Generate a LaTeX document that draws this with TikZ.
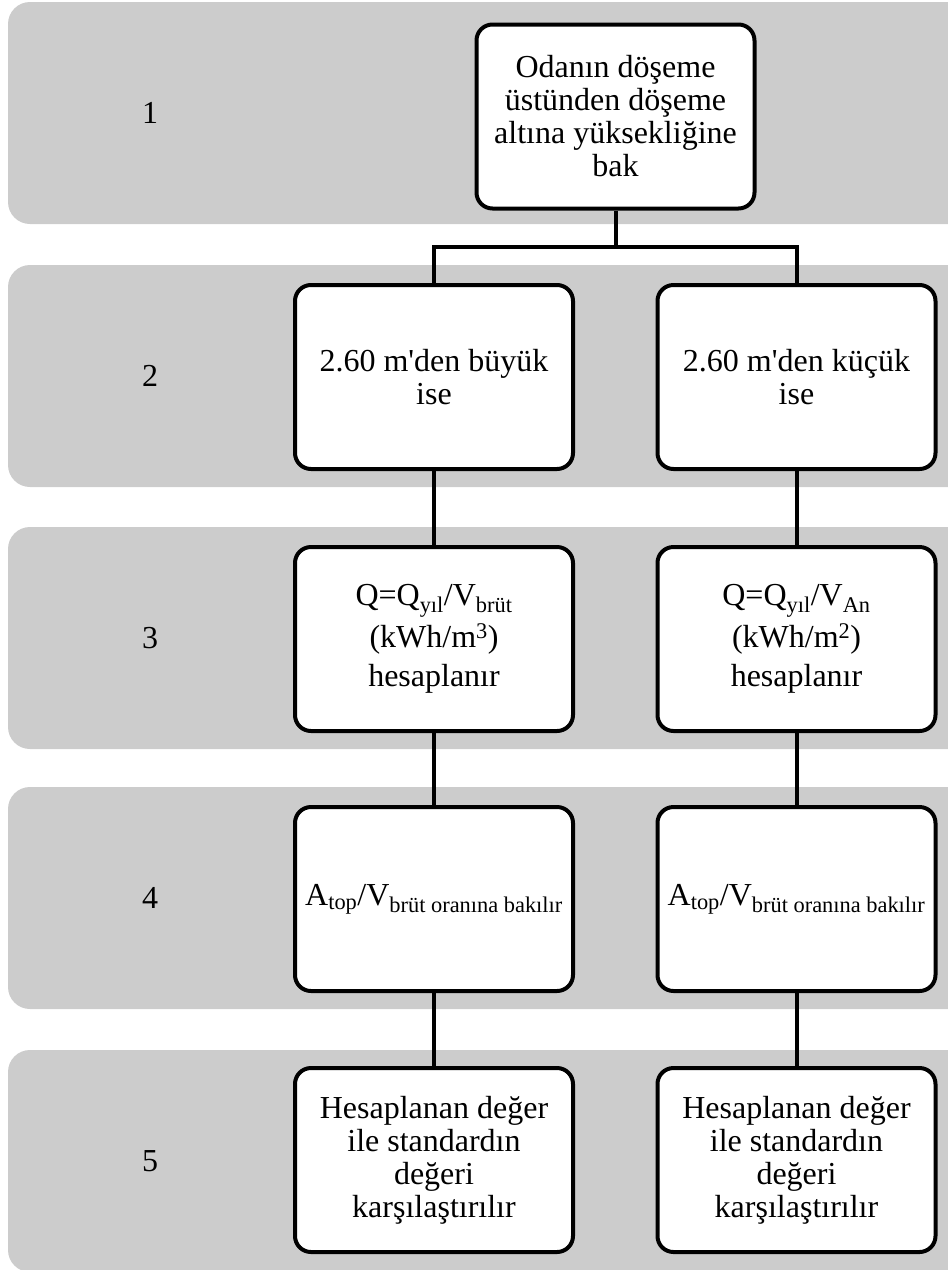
\documentclass[tikz,border=0pt]{standalone}
\usepackage{fontspec}
\setmainfont{Liberation Serif}
\definecolor{bandGray}{RGB}{204,204,204}

\begin{document}
\begin{tikzpicture}[x=1pt, y=-1pt,
    band/.style={fill=bandGray, rounded corners=22pt},
    stepnum/.style={font=\fontsize{32}{33}\selectfont},
    stepbox/.style={draw, line width=4pt, fill=white, rounded corners=16pt,
      minimum width=278pt, minimum height=184pt, inner sep=2pt,
      align=center, font=\fontsize{32}{33}\selectfont},
    link/.style={line width=4pt}]
  \useasboundingbox (0,0) rectangle (948,1270);
  \clip (0,0) rectangle (948,1270);

  % gray bands and step numbers
  \foreach \i/\ytop in {1/2, 2/265, 3/527, 4/787, 5/1050} {
    \fill[band] (8,\ytop) rectangle (975,\ytop+222);
    \node[stepnum] (num\i) at (150,\ytop+111) {\i};
  }

  % boxes
  \node[stepbox] (height) at (615.5,116.5)
    {Odanın döşeme\\üstünden döşeme\\altına yüksekliğine\\bak};
  \node[stepbox] (big) at (434,377) {2.60 m\textquotesingle den büyük\\ise};
  \node[stepbox] (small) at (796.5,377) {2.60 m\textquotesingle den küçük\\ise};
  \node[stepbox] (bigQ) at (434,639)
    {Q=Q\textsubscript{yıl}/V\textsubscript{brüt}\\[5pt](kWh/m\textsuperscript{3})\\[6pt]hesaplanır};
  \node[stepbox] (smallQ) at (796.5,639)
    {Q=Q\textsubscript{yıl}/V\textsubscript{An}\\[5pt](kWh/m\textsuperscript{2})\\[6pt]hesaplanır};
  \node[stepbox] (bigA) at (434,899)
    {A\textsubscript{top}/V\textsubscript{brüt oranına bakılır}};
  \node[stepbox] (smallA) at (796.5,899)
    {A\textsubscript{top}/V\textsubscript{brüt oranına bakılır}};
  \node[stepbox] (bigC) at (434,1160)
    {Hesaplanan değer\\ile standardın\\değeri\\karşılaştırılır};
  \node[stepbox] (smallC) at (796.5,1160)
    {Hesaplanan değer\\ile standardın\\değeri\\karşılaştırılır};

  % connectors
  \coordinate (split) at (615.5,247);
  \draw[link] (height.south) -- (split);
  \draw[link] (big.north) |- (split) -| (small.north);
  \draw[link] (big.south) -- (bigQ.north);
  \draw[link] (small.south) -- (smallQ.north);
  \draw[link] (bigQ.south) -- (bigA.north);
  \draw[link] (smallQ.south) -- (smallA.north);
  \draw[link] (bigA.south) -- (bigC.north);
  \draw[link] (smallA.south) -- (smallC.north);
\end{tikzpicture}
\end{document}
